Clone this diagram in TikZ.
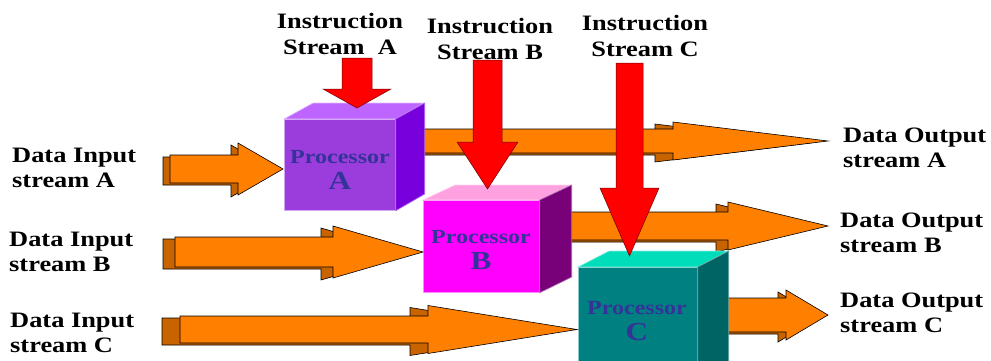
\documentclass[tikz,border=0pt]{standalone}
\usepackage{fontspec}
\setmainfont[FakeStretch=1.2]{Liberation Serif}
\definecolor{flowfront}{RGB}{255,128,0}
\definecolor{flowside}{RGB}{200,100,0}
\definecolor{instrred}{RGB}{255,0,0}
\definecolor{procAfront}{RGB}{155,60,220}
\definecolor{procAtop}{RGB}{190,100,255}
\definecolor{procAside}{RGB}{120,0,220}
\definecolor{procBfront}{RGB}{255,0,255}
\definecolor{procBtop}{RGB}{255,160,224}
\definecolor{procBside}{RGB}{120,0,120}
\definecolor{procCfront}{RGB}{0,128,128}
\definecolor{procCtop}{RGB}{0,221,187}
\definecolor{procCside}{RGB}{0,100,100}
\definecolor{proctext}{RGB}{51,51,153}

\tikzset{
  flowback/.style={fill=flowside, draw=black, line width=0.6pt, line join=miter},
  flowtop/.style={fill=flowfront, draw=black, line width=0.6pt, line join=miter},
  instr/.style={fill=instrred, draw=red!45!black, line width=0.5pt},
  streamlabel/.style={font=\bfseries\fontsize{22}{25}\selectfont, inner sep=0pt, align=left, text=black},
  instrlabel/.style={font=\bfseries\fontsize{22}{26}\selectfont, inner sep=0pt, align=center, text=black},
  proclabel/.style={font=\bfseries\fontsize{20}{26}\selectfont, inner sep=0pt, align=center, text=proctext},
  face/.style={line width=0.7pt, line join=round}
}

% larger letter on the second line of a processor label
\newcommand\procletter[1]{{\fontsize{26}{26}\selectfont #1}}

% horizontal extruded block arrow:
% #1 tail x, #2 head base x, #3 tip x, #4 centre y, #5 half shaft, #6 half head, #7 depth
\newcommand\flowarrow[7]{%
  \path[flowback, shift={(-#7,2)}]
    (#1,{#4-#5}) -- (#2,{#4-#5}) -- (#2,{#4-#6}) -- (#3,#4)
    -- (#2,{#4+#6}) -- (#2,{#4+#5}) -- (#1,{#4+#5}) -- cycle;
  \path[flowtop]
    (#1,{#4-#5}) -- (#2,{#4-#5}) -- (#2,{#4-#6}) -- (#3,#4)
    -- (#2,{#4+#6}) -- (#2,{#4+#5}) -- (#1,{#4+#5}) -- cycle;
}

% downward instruction arrow:
% #1 centre x, #2 half shaft, #3 top y, #4 head base y, #5 half head, #6 tip y
\newcommand\instrarrow[6]{%
  \path[instr]
    ({#1-#2},#3) -- ({#1+#2},#3) -- ({#1+#2},#4) -- ({#1+#5},#4)
    -- (#1,#6) -- ({#1-#5},#4) -- ({#1-#2},#4) -- cycle;
}

% processor cube: #1 name, #2 x0, #3 y0, #4 width, #5 height, #6 dx, #7 dy, #8 colour prefix
\newcommand\proccube[8]{%
  \node[face, fill=#8front, draw=white!55!#8front, minimum width=#4pt, minimum height=#5pt,
        inner sep=0pt, anchor=north west] (#1) at (#2,#3) {};
  \path[face, fill=#8top, draw=white!55!#8top]
    (#1.north west) -- ++(#6,#7) -- ++(#4,0) -- (#1.north east) -- cycle;
  \path[face, fill=#8side, draw=white!40!#8side]
    (#1.north east) -- ++(#6,#7) -- ++(0,#5) -- (#1.south east) -- cycle;
}

\begin{document}
\begin{tikzpicture}[x=1pt, y=-1pt]
  \clip (0,0) rectangle (991,360);
  \fill[white] (0,0) rectangle (991,360);

  % output streams (start behind the processors)
  \flowarrow{400}{673}{828}{141}{12}{19}{18}
  \flowarrow{545}{728}{828}{226}{14}{24}{12}
  \flowarrow{700}{786}{828}{315}{17}{25}{8}

  % processors
  \proccube{procA}{284}{119}{111}{91}{29}{-16}{procA}
  \proccube{procB}{423}{200}{116}{92}{32}{-15}{procB}
  \proccube{procC}{578}{267}{119}{120}{31}{-16}{procC}

  % input streams
  \flowarrow{170}{238}{283}{169}{14}{26}{7}
  \flowarrow{175}{333}{423}{252}{15}{26}{12}
  \flowarrow{180}{428}{577}{329.5}{13.5}{24}{18}

  % instruction streams
  \instrarrow{357}{15}{58}{89}{34}{108}
  \instrarrow{487.5}{14.5}{60}{142}{30.5}{189}
  \instrarrow{629.5}{13.5}{63}{188}{29.5}{256}

  % processor labels
  \node[proclabel, anchor=north] (labA) at (340,150) {Processor\\\procletter{A}};
  \node[proclabel, anchor=north] (labB) at (481,230) {Processor\\\procletter{B}};
  \node[proclabel, anchor=north] (labC) at (637,301) {Processor\\\procletter{C}};

  % instruction labels
  \node[instrlabel, anchor=north] (insA) at (340,13) {Instruction\\Stream~~A};
  \node[instrlabel, anchor=north] (insB) at (490,18) {Instruction\\Stream B};
  \node[instrlabel, anchor=north] (insC) at (645,15) {Instruction\\Stream C};

  % data input labels
  \node[streamlabel, anchor=north west] (inA) at (12,148) {Data Input\\stream A};
  \node[streamlabel, anchor=north west] (inB) at (9,232) {Data Input\\stream B};
  \node[streamlabel, anchor=north west] (inC) at (10,313) {Data Input\\stream C};

  % data output labels
  \node[streamlabel, anchor=north west] (outA) at (843,128) {Data Output\\stream A};
  \node[streamlabel, anchor=north west] (outB) at (840,213) {Data Output\\stream B};
  \node[streamlabel, anchor=north west] (outC) at (840,293) {Data Output\\stream C};
\end{tikzpicture}
\end{document}
